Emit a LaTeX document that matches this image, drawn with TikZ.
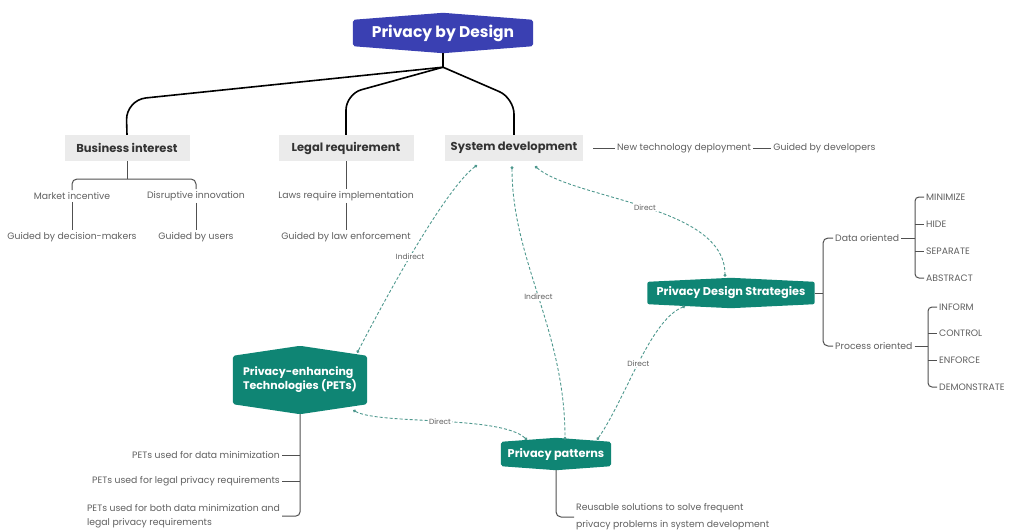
\documentclass[tikz,border=0pt]{standalone}
\usepackage{fontspec}
\setmainfont{Poppins}
\usepackage{xcolor}
\usepackage{tikz}
\usetikzlibrary{arrows.meta, positioning, calc, backgrounds}
\definecolor{pbdblue}{RGB}{58,64,178}
\definecolor{pbdteal}{RGB}{15,133,116}
\definecolor{linkteal}{RGB}{78,152,142}
\definecolor{boxgray}{RGB}{235,235,235}
\definecolor{textgray}{RGB}{95,95,95}
\definecolor{branchgray}{RGB}{80,80,80}
\tikzset{
  hexnode/.style={
    rectangle, inner sep=0pt, text=white, align=center
  },
  topic/.style={
    rectangle, fill=boxgray, minimum height=26pt, inner sep=0pt,
    font=\fontsize{11.5}{13}\selectfont\bfseries, text=black!80
  },
  leaf/.style={inner sep=2pt, font=\fontsize{9.3}{11}\selectfont, text=textgray},
  trunk/.style={line width=1.6pt, black},
  branch/.style={line width=1pt, branchgray},
  link/.style={{Circle[length=3pt]}-{Circle[length=3pt]}, dash pattern=on 3pt off 2pt,
    line width=0.9pt, linkteal},
  linklabel/.style={font=\fontsize{7.5}{9}\selectfont, text=textgray, fill=white, inner sep=1pt}
}
% flat hexagon behind a node: node, colour, peak height
\newcommand{\hexback}[3]{%
  \fill[#2, rounded corners=2pt] (#1.north west) -- ($(#1.north)+(0pt,#3pt)$) -- (#1.north east)
    -- (#1.south east) -- ($(#1.south)-(0pt,#3pt)$) -- (#1.south west) -- cycle;
  \coordinate (#1-top) at ($(#1.north)+(0pt,#3pt)$);
  \coordinate (#1-bot) at ($(#1.south)-(0pt,#3pt)$);
}

\begin{document}
\begin{tikzpicture}[x=1pt, y=-1pt]
  \useasboundingbox (0,0) rectangle (1013,530);

  % main nodes
  \node[hexnode, minimum width=180pt, minimum height=26pt,
    font=\fontsize{15.5}{17}\selectfont\bfseries] (pbd) at (443,33) {Privacy by Design};
  \node[topic, minimum width=125pt] (bi) at (127,148) {Business interest};
  \node[topic, minimum width=135pt] (lr) at (346,148) {Legal requirement};
  \node[topic, minimum width=138pt] (sd) at (514,148) {System development};
  \node[hexnode, minimum width=134pt, minimum height=48pt, align=left,
    font=\fontsize{11}{14}\selectfont\bfseries] (pet) at (300,380) {Privacy-enhancing\\Technologies (PETs)};
  \node[hexnode, minimum width=167pt, minimum height=22pt,
    font=\fontsize{11.3}{13}\selectfont\bfseries] (pds) at (731,293) {Privacy Design Strategies};
  \node[hexnode, minimum width=110pt, minimum height=24pt,
    font=\fontsize{11.3}{13}\selectfont\bfseries] (pp) at (556,454) {Privacy patterns};

  \begin{scope}[on background layer]
    \hexback{pbd}{pbdblue}{7}
    \hexback{pet}{pbdteal}{10}
    \hexback{pds}{pbdteal}{4}
    \hexback{pp}{pbdteal}{4}
  \end{scope}

  % leaves
  \node[leaf] (mi) at (72,196) {Market incentive};
  \node[leaf] (di) at (196,196) {Disruptive innovation};
  \node[leaf] (gdm) at (72,237) {Guided by decision-makers};
  \node[leaf] (gu) at (196,237) {Guided by users};
  \node[leaf] (lri) at (346,196) {Laws require implementation};
  \node[leaf] (gle) at (346,237) {Guided by law enforcement};
  \node[leaf, anchor=west] (ntd) at (615,148) {New technology deployment};
  \node[leaf, right=18pt of ntd] (gdev) {Guided by developers};

  \node[leaf, anchor=west] (do) at (833,238) {Data oriented};
  \node[leaf, anchor=west] (po) at (833,346) {Process oriented};
  \node[leaf, anchor=west] (s1) at (924,197) {MINIMIZE};
  \node[leaf, anchor=west] (s2) at (924,224) {HIDE};
  \node[leaf, anchor=west] (s3) at (924,251) {SEPARATE};
  \node[leaf, anchor=west] (s4) at (924,278) {ABSTRACT};
  \node[leaf, anchor=west] (t1) at (937,307) {INFORM};
  \node[leaf, anchor=west] (t2) at (937,333) {CONTROL};
  \node[leaf, anchor=west] (t3) at (937,360) {ENFORCE};
  \node[leaf, anchor=west] (t4) at (937,387) {DEMONSTRATE};

  \node[leaf, anchor=east] (u1) at (282,455) {PETs used for data minimization};
  \node[leaf, anchor=east] (u2) at (282,481) {PETs used for legal privacy requirements};
  \node[leaf, anchor=east, align=left, font=\fontsize{9.3}{14}\selectfont] (u3) at (282,516)
    {PETs used for both data minimization and\\legal privacy requirements};
  \node[leaf, anchor=west, align=left, font=\fontsize{9.3}{17}\selectfont] (ppd) at (574,517)
    {Reusable solutions to solve frequent\\privacy problems in system development};

  % tree from the root
  \draw[trunk] (pbd-bot) -- ++(0,14) coordinate (jn);
  \draw[trunk, rounded corners=20pt] (jn) -- (126,100) -- (bi.north);
  \draw[trunk, rounded corners=16pt] (jn) -- (346,94) -- (lr.north);
  \draw[trunk, rounded corners=16pt] (jn) -- (514,98) -- (sd.north);

  \coordinate (bj) at (127,179);
  \draw[branch] (bi.south) -- (bj);
  \draw[branch, rounded corners=5pt] (mi.north) |- (bj) -| (di.north);
  \draw[branch] (mi) -- (gdm);
  \draw[branch] (di) -- (gu);
  \draw[branch] (lr) -- (lri);
  \draw[branch] (lri) -- (gle);
  \draw[branch, shorten <=10pt] (sd) -- (ntd);
  \draw[branch] (ntd) -- (gdev);

  % strategies
  \coordinate (sj) at (823,293);
  \draw[branch] (pds.east) -- (sj);
  \draw[branch, rounded corners=5pt] (do.west) -| (sj) |- (po.west);
  \coordinate (dj) at (915,238);
  \draw[branch] (do.east) -- (dj);
  \draw[branch, rounded corners=4pt] (s1.west) -| (dj) |- (s4.west);
  \draw[branch] (dj |- s2.west) -- (s2.west);
  \draw[branch] (dj |- s3.west) -- (s3.west);
  \coordinate (pj) at (928,346);
  \draw[branch] (po.east) -- (pj);
  \draw[branch, rounded corners=4pt] (t1.west) -| (pj) |- (t4.west);
  \draw[branch] (pj |- t2.west) -- (t2.west);
  \draw[branch] (pj |- t3.west) -- (t3.west);

  % PETs and patterns
  \draw[branch, rounded corners=4pt] (pet-bot) |- (u3.east);
  \draw[branch] (u1.east) -- (u1.east -| pet-bot);
  \draw[branch] (u2.east) -- (u2.east -| pet-bot);
  \draw[branch, rounded corners=5pt] (pp-bot) |- (ppd.west);

  % dashed links
  \draw[link] ([xshift=-37pt, yshift=-4pt]sd.south) .. controls (450,185) and (400,270) ..
    ([xshift=-10pt, yshift=3pt]pet.north east) node[linklabel, pos=.6]{Indirect};
  \draw[link] ([xshift=-2pt, yshift=-5pt]sd.south) .. controls (512,260) and (565,330) ..
    ([xshift=9pt, yshift=-2pt]pp-top) node[linklabel, pos=.5]{Indirect};
  \draw[link] ([xshift=21pt, yshift=-5pt]sd.south) .. controls (575,200) and (725,205) ..
    ([xshift=-6pt, yshift=1pt]pds-top) node[linklabel, pos=.5]{Direct};
  \draw[link] ([xshift=-14pt, yshift=-6pt]pet.south east) .. controls (380,425) and (500,415) ..
    ([xshift=-29pt, yshift=2pt]pp.north) node[linklabel, pos=.5]{Direct};
  \draw[link] ([xshift=41pt, yshift=2pt]pp.north) .. controls (625,400) and (650,320) ..
    ([xshift=-46pt, yshift=-2pt]pds.south) node[linklabel, pos=.5]{Direct};
\end{tikzpicture}
\end{document}
